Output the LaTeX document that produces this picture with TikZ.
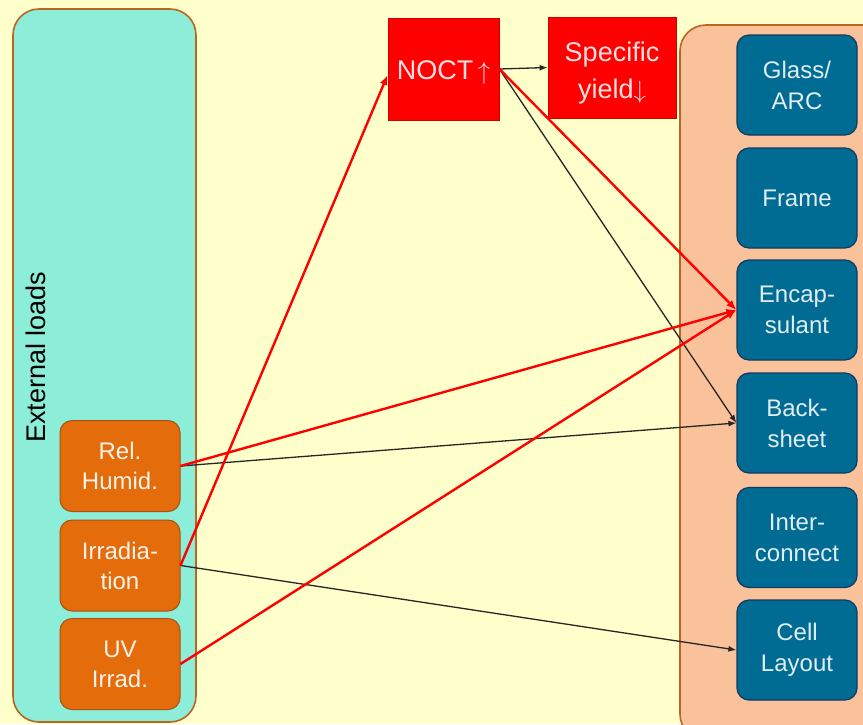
\documentclass[tikz,border=0pt]{standalone}
\usepackage{fontspec}
\setmainfont{Liberation Sans}
\usetikzlibrary{arrows.meta}
\definecolor{bgyellow}{HTML}{FFFFCC}
\definecolor{loadfill}{HTML}{8CEED8}
\definecolor{brownline}{HTML}{BC6424}
\definecolor{loadbox}{HTML}{E46C0A}
\definecolor{loadedge}{HTML}{A8520E}
\definecolor{peach}{HTML}{FAC29A}
\definecolor{partfill}{HTML}{006C93}
\definecolor{partedge}{HTML}{17375E}
\definecolor{effectred}{HTML}{FF0000}
\definecolor{effectedge}{HTML}{D00000}
\tikzset{
  container/.style={draw=brownline, line width=1.6pt, rounded corners=26pt},
  loadnode/.style={draw=loadedge, line width=1pt, fill=loadbox, rounded corners=12pt,
    minimum width=120pt, minimum height=91pt, align=center, text=white!92!loadbox,
    font=\fontsize{24}{30}\selectfont, inner sep=0pt},
  partnode/.style={draw=partedge, line width=1.2pt, fill=partfill, rounded corners=12pt,
    minimum width=120pt, minimum height=100pt, align=center, text=white!88!partfill,
    font=\fontsize{24}{31}\selectfont, inner sep=0pt},
  effectnode/.style={draw=effectedge, line width=0.8pt, fill=effectred, align=center,
    text=white!88!red, inner sep=0pt},
  redlink/.style={draw=effectred, line width=2.4pt, -{Latex[length=10pt,width=8pt]}},
  blacklink/.style={draw=black!85, line width=1.3pt, -{Latex[length=8pt,width=6pt]}}
}
\begin{document}
\begin{tikzpicture}[x=1pt,y=-1pt]
  % canvas
  \fill[bgyellow] (0,0) rectangle (863,724);
  \useasboundingbox (0,0) rectangle (863,724);

  % group containers
  \draw[container, fill=loadfill] (13,9) rectangle (196,722);
  \draw[container, fill=peach] (680,25) rectangle (900,740);
  \node[rotate=90, font=\fontsize{27}{30}\selectfont] (extlabel) at (36,357) {External loads};

  % external loads
  \node[loadnode] (humid) at (120,466) {Rel.\\Humid.};
  \node[loadnode] (irrad) at (120,565.5) {Irradia-\\tion};
  \node[loadnode] (uv)    at (120,664) {UV\\Irrad.};

  % effects
  \node[effectnode, minimum width=111pt, minimum height=102pt] (noct) at (443.5,69) {};
  \node[text=white!88!red, font=\fontsize{27}{30}\selectfont, inner sep=0pt]
        (nocttext) at ([yshift=-3pt]noct.center) {NOCT\,$\uparrow$};
  \node[effectnode, minimum width=128pt, minimum height=101pt] (yield) at (612,67.5) {};
  \node[text=white!88!red, align=center, font=\fontsize{27}{37}\selectfont, inner sep=0pt]
        (yieldtext) at ([yshift=-6pt]yield.center) {Specific\\yield$\downarrow$};

  % module components
  \node[partnode] (glass) at (797,85)  {Glass/\\ARC};
  \node[partnode] (frame) at (797,198) {Frame};
  \node[partnode] (encap) at (797,310) {Encap-\\sulant};
  \node[partnode] (back)  at (797,423) {Back-\\sheet};
  \node[partnode] (inter) at (797,537.5) {Inter-\\connect};
  \node[partnode] (cell)  at (797,650) {Cell\\Layout};

  % influences
  \draw[blacklink] (noct.east) -- (yield.west);
  \draw[blacklink] (noct.east) -- (back.west);
  \draw[blacklink] (humid.east) -- (back.west);
  \draw[blacklink] (irrad.east) -- (cell.west);
  \draw[redlink] (irrad.east) -- ([yshift=-6pt]noct.west);
  \draw[redlink] (noct.east) -- (encap.west);
  \draw[redlink] (humid.east) -- (encap.west);
  \draw[redlink] (uv.east) -- (encap.west);
\end{tikzpicture}
\end{document}
